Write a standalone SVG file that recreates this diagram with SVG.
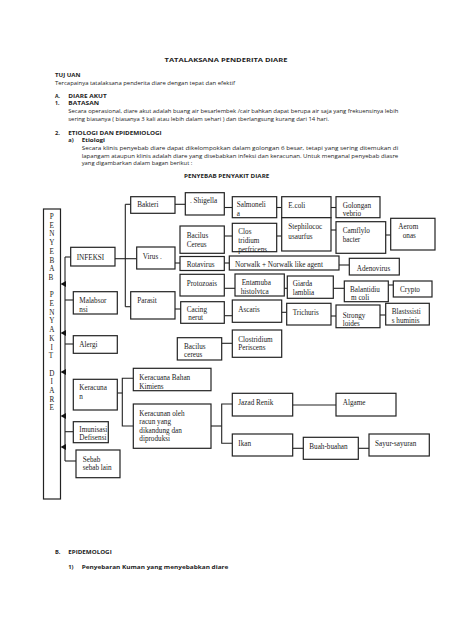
<svg xmlns="http://www.w3.org/2000/svg" width="453" height="640" viewBox="0 0 453 640">
<style>
.doc{font-family:"Open Sans","Noto Sans","DejaVu Sans",sans-serif;fill:#222;font-size:5.7px}
.b{font-weight:bold}
.h{font-size:5.2px}
.n rect{fill:#fff;stroke:#222;stroke-width:1.2}
.n text{font-family:"Liberation Serif","Times New Roman",serif;font-size:7.2px;fill:#1a1a1a}
.c line,.c polyline{stroke:#222;stroke-width:1.1;fill:none}
.c polygon{fill:#111}
.side{font-family:"Liberation Serif","Times New Roman",serif;font-size:7px;fill:#1a1a1a;text-anchor:middle}
</style>
<rect width="453" height="640" fill="#fff"/>

<!-- document text -->
<text class="doc b" x="164.5" y="62" font-size="7.8" textLength="123" lengthAdjust="spacingAndGlyphs">TATALAKSANA  PENDERITA DIARE</text>
<text class="doc b" x="55" y="76.8" textLength="25.5" lengthAdjust="spacingAndGlyphs">TUJ UAN</text>
<text class="doc" x="55" y="84.6" textLength="180" lengthAdjust="spacingAndGlyphs">Tercapainya tatalaksana penderita diare dengan tepat dan efektif</text>
<text class="doc b h" x="55" y="98.4">A.</text>
<text class="doc b h" x="68.3" y="98.4" textLength="38.4" lengthAdjust="spacingAndGlyphs">DIARE AKUT</text>
<text class="doc b h" x="55" y="105.4">1.</text>
<text class="doc b h" x="68.3" y="105.4" textLength="30.7" lengthAdjust="spacingAndGlyphs">BATASAN</text>
<text class="doc" x="68.3" y="113" textLength="330" lengthAdjust="spacingAndGlyphs">Secara operasional, diare akut adalah buang air besarlembek /cair bahkan dapat berupa air saja yang frekuensinya lebih</text>
<text class="doc" x="68.3" y="121" textLength="260.7" lengthAdjust="spacingAndGlyphs">sering biasanya ( biasanya 3 kali atau lebih dalam sehari ) dan tberlangsung kurang dari 14 hari.</text>
<text class="doc b" x="55" y="135.4">2.</text>
<text class="doc b" x="68.3" y="135.4" textLength="93.4" lengthAdjust="spacingAndGlyphs">ETIOLOGI DAN EPIDEMIOLOGI</text>
<text class="doc b" x="68.3" y="142.2">a)</text>
<text class="doc b" x="81.7" y="142.2" textLength="23.3" lengthAdjust="spacingAndGlyphs">Etiologi</text>
<text class="doc" x="81.7" y="150.4" textLength="316.6" lengthAdjust="spacingAndGlyphs">Secara klinis penyebab diare dapat dikelompokkan dalam golongan 6 besar, tetapi yang sering ditemukan di</text>
<text class="doc" x="81.7" y="158" textLength="316.6" lengthAdjust="spacingAndGlyphs">lapangam ataupun klinis adalah  diare yang disebabkan infeksi dan keracunan. Untuk menganal penyebab diasre</text>
<text class="doc" x="81.7" y="164.7" textLength="110.6" lengthAdjust="spacingAndGlyphs">yang digambarkan dalam bagan berikut :</text>
<text class="doc b" x="184" y="178" font-size="5.4" textLength="85.3" lengthAdjust="spacingAndGlyphs">PENYEBAB PENYAKIT DIARE</text>
<text class="doc b" x="55" y="553.7">B.</text>
<text class="doc b" x="68.3" y="553.7" textLength="43.4" lengthAdjust="spacingAndGlyphs">EPIDEMOLOGI</text>
<text class="doc b" x="68.3" y="568.7">1)</text>
<text class="doc b" x="81.7" y="568.7" textLength="146.6" lengthAdjust="spacingAndGlyphs">Penyebaran Kuman yang menyebabkan diare</text>

<!-- connectors -->
<g id="connectors" class="c">
  <line x1="65" y1="257" x2="65" y2="461"/>
  <line x1="65" y1="257" x2="70.7" y2="257"/>
  <line x1="65" y1="300" x2="73.3" y2="300"/>
  <line x1="65" y1="344" x2="73.3" y2="344"/>
  <line x1="65" y1="431.7" x2="73.3" y2="431.7"/>
  <line x1="65" y1="461" x2="76" y2="461"/>
  <polygon points="60.5,284 66,281 66,287"/>
  <polygon points="60.5,333 66,330 66,336"/>
  <polygon points="60.5,372 66,369 66,375"/>
  <polygon points="60.5,416 66,413 66,419"/>
  <polygon points="60.5,447 66,444 66,450"/>
  <line x1="125.3" y1="204.3" x2="125.3" y2="306.7"/>
  <line x1="125.3" y1="204.3" x2="130.7" y2="204.3"/>
  <line x1="115" y1="258.7" x2="136.7" y2="258.7"/>
  <line x1="125.3" y1="306.7" x2="130.7" y2="306.7"/>
  <line x1="175" y1="204.3" x2="185.3" y2="204.3"/>
  <line x1="224.3" y1="207.5" x2="232.3" y2="207.5"/>
  <line x1="276.7" y1="207.5" x2="281.7" y2="207.5"/>
  <line x1="331" y1="207.5" x2="336" y2="207.5"/>
  <line x1="224.3" y1="236" x2="232.3" y2="236"/>
  <line x1="276.7" y1="236" x2="281.7" y2="236"/>
  <line x1="331" y1="230" x2="336" y2="230"/>
  <line x1="385.7" y1="235" x2="390.7" y2="235"/>
  <line x1="175" y1="263" x2="180" y2="263"/>
  <line x1="224.3" y1="263" x2="229.3" y2="263"/>
  <line x1="339" y1="265" x2="349.3" y2="265"/>
  <line x1="224.3" y1="288.3" x2="235" y2="288.3"/>
  <line x1="284.3" y1="288.3" x2="287.3" y2="288.3"/>
  <line x1="333.3" y1="288.3" x2="344.3" y2="288.3"/>
  <line x1="388.3" y1="285" x2="393.3" y2="285"/>
  <line x1="175" y1="309" x2="186" y2="309"/>
  <line x1="224.3" y1="315.7" x2="232.3" y2="315.7"/>
  <line x1="281.7" y1="312.3" x2="286.7" y2="312.3"/>
  <line x1="331" y1="316" x2="336" y2="316"/>
  <line x1="380" y1="315" x2="385.7" y2="315"/>
  <line x1="221.7" y1="343.3" x2="232.3" y2="343.3"/>
  <line x1="117.3" y1="393" x2="122.3" y2="393"/>
  <polyline points="133.3,378.3 122.3,378.3 122.3,426 133.3,426"/>
  <line x1="211" y1="426" x2="221.7" y2="426"/>
  <polyline points="232.3,404 221.7,404 221.7,443.3 232.3,443.3"/>
  <line x1="292.7" y1="405" x2="336" y2="405"/>
  <line x1="292.7" y1="448.3" x2="303.3" y2="448.3"/>
  <line x1="358.3" y1="448.3" x2="369" y2="448.3"/>
</g>

<!-- nodes -->
<g id="penyebab" class="n">
  <rect x="43.5" y="209" width="17" height="290"/>
  <text class="side">
    <tspan x="51.8" y="219">P</tspan><tspan x="51.8" y="227.7">E</tspan><tspan x="51.8" y="236.4">N</tspan><tspan x="51.8" y="245.1">Y</tspan><tspan x="51.8" y="253.8">E</tspan><tspan x="51.8" y="262.5">B</tspan><tspan x="51.8" y="271.2">A</tspan><tspan x="51.8" y="279.9">B</tspan>
    <tspan x="51.8" y="297.3">P</tspan><tspan x="51.8" y="306">E</tspan><tspan x="51.8" y="314.7">N</tspan><tspan x="51.8" y="323.4">Y</tspan><tspan x="51.8" y="332.1">A</tspan><tspan x="51.8" y="340.8">K</tspan><tspan x="51.8" y="349.5">I</tspan><tspan x="51.8" y="358.2">T</tspan>
    <tspan x="51.8" y="375.6">D</tspan><tspan x="51.8" y="384.3">I</tspan><tspan x="51.8" y="393">A</tspan><tspan x="51.8" y="401.7">R</tspan><tspan x="51.8" y="410.4">E</tspan>
  </text>
</g>
<g id="infeksi" class="n"><rect x="70.7" y="247.3" width="44.3" height="18.7"/><text x="76.7" y="260">INFEKSI</text></g>
<g id="bakteri" class="n"><rect x="130.7" y="196.7" width="44.3" height="16.6"/><text x="137.3" y="207">Bakteri</text></g>
<g id="shigella" class="n"><rect x="185.3" y="192.7" width="39" height="22.3"/><text x="190" y="203">. Shigella</text></g>
<g id="salmonella" class="n"><rect x="232.3" y="196.7" width="44.4" height="21"/><text x="236.7" y="206.8">Salmoneli</text><text x="236.7" y="215.8">a</text></g>
<g id="ecoli" class="n"><rect x="281.7" y="196.7" width="49.3" height="21"/><text x="288.3" y="207.5">E.coli</text></g>
<g id="golongan" class="n"><rect x="336" y="196.7" width="44" height="21"/><text x="342.7" y="207.5">Golongan</text><text x="342.7" y="216.3">vebrio</text></g>
<g id="bacilus-cereus-1" class="n"><rect x="180" y="226" width="44.3" height="27.3"/><text x="186.7" y="237.8">Bacilus</text><text x="186.7" y="247.2">Cereus</text></g>
<g id="clostridium-1" class="n"><rect x="232.3" y="223.3" width="44.4" height="28.4"/><text x="238.3" y="234.2">Clos</text><text x="238.3" y="243.2">tridium</text><text x="238.3" y="251.9">perfricens</text></g>
<g id="stephilococ" class="n"><rect x="281.7" y="217.7" width="49.3" height="33.3"/><text x="288.3" y="229.2">Stephilococ</text><text x="288.3" y="238.5">usaurfus</text></g>
<g id="camflylo" class="n"><rect x="336" y="221.7" width="49.7" height="31.6"/><text x="342.7" y="232.5">Camflylo</text><text x="342.7" y="241.8">bacter</text></g>
<g id="aeromonas" class="n"><rect x="390.7" y="218.3" width="44.3" height="31.7"/><text x="398.3" y="229.2">Aerom</text><text x="402.7" y="238.2">onas</text></g>
<g id="virus" class="n"><rect x="136.7" y="247" width="38.3" height="22"/><text x="142.7" y="258.5">Virus .</text></g>
<g id="rotavirus" class="n"><rect x="180" y="256.5" width="44.3" height="14"/><text x="186.7" y="266.5">Rotavirus</text></g>
<g id="norwalk" class="n"><rect x="229.3" y="256" width="109.7" height="14"/><text x="235" y="266.5">Norwalk + Norwalk like agent</text></g>
<g id="adenovirus" class="n"><rect x="349.3" y="258.3" width="50" height="16.7"/><text x="356.7" y="270.8">Adenovirus</text></g>
<g id="protozoais" class="n"><rect x="180" y="274.3" width="44.3" height="21.7"/><text x="186.7" y="285.8">Protozoais</text></g>
<g id="entamuba" class="n"><rect x="235" y="274" width="49.3" height="22"/><text x="241.7" y="285.2">Entamuba</text><text x="240.7" y="293.6">histolvtca</text></g>
<g id="giarda" class="n"><rect x="287.3" y="276" width="46" height="22.3"/><text x="292.7" y="285.8">Giarda</text><text x="292.7" y="294.8">lamblia</text></g>
<g id="balantidium" class="n"><rect x="344.3" y="281" width="44" height="20.7"/><text x="350" y="291.5">Balantidiu</text><text x="351" y="299.6">m coli</text></g>
<g id="crypto" class="n"><rect x="393.3" y="281" width="38.7" height="16"/><text x="400" y="291.5">Crypto</text></g>
<g id="malabsorpsi" class="n"><rect x="73.3" y="291.7" width="44" height="22.3"/><text x="79.3" y="302.5">Malabsor</text><text x="79.3" y="311.5">nsi</text></g>
<g id="parasit" class="n"><rect x="130.7" y="291.7" width="44.3" height="27.3"/><text x="137.3" y="302.5">Parasit</text></g>
<g id="cacing" class="n"><rect x="180.7" y="301.7" width="43.6" height="21.6"/><text x="186.7" y="311.5">Cacing</text><text x="188.3" y="320">nerut</text></g>
<g id="ascaris" class="n"><rect x="232.3" y="300" width="49.4" height="22.3"/><text x="238.3" y="311.5">Ascaris</text></g>
<g id="trichuris" class="n"><rect x="286.7" y="303.3" width="44.3" height="21.7"/><text x="292.7" y="314.8">Trichuris</text></g>
<g id="strongyloides" class="n"><rect x="336" y="305" width="44" height="22.7"/><text x="342.7" y="317.5">Strongy</text><text x="342.7" y="325.8">loides</text></g>
<g id="blastocystis" class="n"><rect x="385.7" y="303.3" width="43.6" height="21.7"/><text x="391.7" y="314.2">Blastssisti</text><text x="391.7" y="322.5">s huminis</text></g>
<g id="alergi" class="n"><rect x="73.3" y="335.7" width="44" height="17.6"/><text x="79.3" y="346.5">Alergi</text></g>
<g id="bacilus-cereus-2" class="n"><rect x="177.3" y="337.7" width="44.4" height="22.3"/><text x="184" y="348.5">Bacilus</text><text x="184" y="356.8">cereus</text></g>
<g id="clostridium-2" class="n"><rect x="232.3" y="330" width="49.4" height="27.3"/><text x="238.3" y="341.8">Clostridium</text><text x="238.3" y="349.8">Periscens</text></g>
<g id="keracunan" class="n"><rect x="73.3" y="379.3" width="44" height="30.7"/><text x="79.3" y="390.2">Keracuna</text><text x="79.3" y="399.2">n</text></g>
<g id="keracunan-kimia" class="n"><rect x="133.3" y="368.3" width="77.7" height="22.4"/><text x="139.3" y="379.8">Keracuana Bahan</text><text x="139.3" y="388.8">Kimiens</text></g>
<g id="keracunan-racun" class="n"><rect x="133.3" y="404" width="77.7" height="44.3"/><text x="139.3" y="415.8">Keracunan oleh</text><text x="139.3" y="424.2">racun yang</text><text x="139.3" y="432.5">dikandung dan</text><text x="139.3" y="440.8">diproduksi</text></g>
<g id="imunisasi" class="n"><rect x="73.3" y="421.7" width="35" height="21"/><text x="79.3" y="431.5" font-size="6.6">Imunisasi</text><text x="79.3" y="440.2" font-size="6.6">Defisensi</text></g>
<g id="sebab-lain" class="n"><rect x="76" y="450" width="44" height="27.7"/><text x="82.7" y="461.8">Sebab</text><text x="82.7" y="470.2">sebab lain</text></g>
<g id="jazad-renik" class="n"><rect x="232.3" y="393.3" width="60.4" height="22.7"/><text x="238.3" y="405.2">Jazad Renik</text></g>
<g id="algame" class="n"><rect x="336" y="393.3" width="60" height="22.7"/><text x="342.7" y="405.2">Algame</text></g>
<g id="ikan" class="n"><rect x="232.3" y="434" width="60.4" height="22"/><text x="238.3" y="445.8">Ikan</text></g>
<g id="buah" class="n"><rect x="303.3" y="437.3" width="55" height="22"/><text x="309.3" y="448.5">Buah-buahan</text></g>
<g id="sayur" class="n"><rect x="369" y="434" width="60.3" height="22"/><text x="375" y="445.8">Sayur-sayuran</text></g>
</svg>
